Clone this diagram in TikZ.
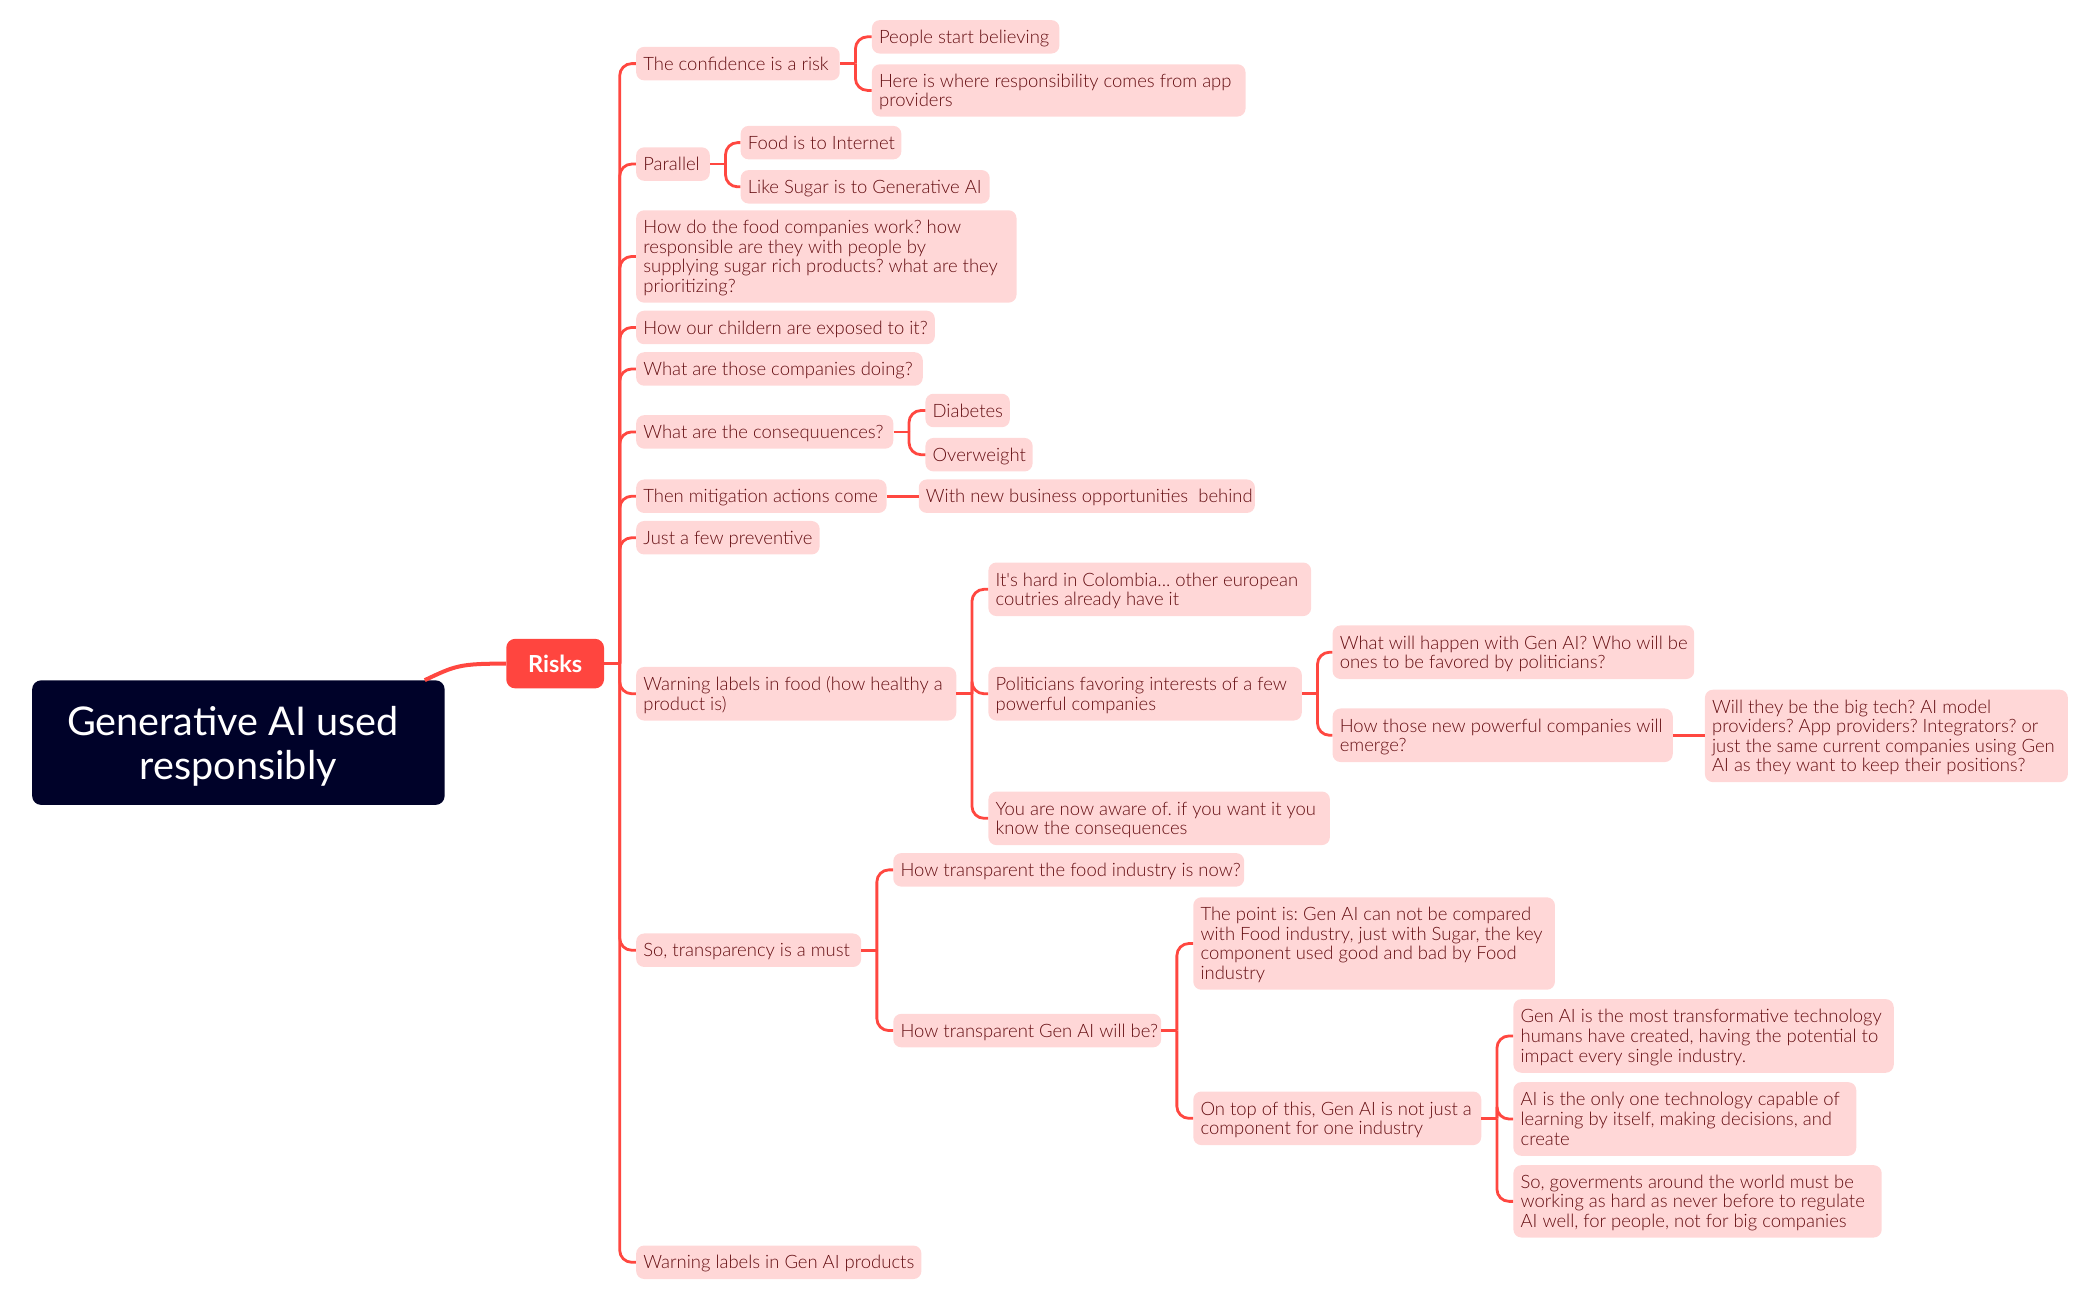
\documentclass[tikz,border=0pt]{standalone}
\usepackage{fontspec}
\setmainfont{Lato}
\newfontfamily\lightfont{Lato Light}
\frenchspacing
\usetikzlibrary{calc}
\definecolor{rootc}{HTML}{000229}
\definecolor{riskc}{HTML}{FF453F}
\definecolor{pillc}{HTML}{FFD7D7}
\definecolor{txtc}{HTML}{650E12}
\definecolor{linec}{HTML}{FF4740}
\tikzset{
  pill/.style={fill=pillc,text=txtc,rounded corners=8pt,inner xsep=7.2pt,inner ysep=0pt,font=\lightfont\frenchspacing\fontsize{18.45}{19.6}\selectfont},
  rootbox/.style={fill=rootc,text=white,rounded corners=9pt,inner sep=0pt,font=\frenchspacing\fontsize{39.6}{44}\selectfont},
  riskbox/.style={fill=riskc,text=white,rounded corners=9pt,inner sep=0pt,align=center,font=\fontsize{23.5}{26}\selectfont\bfseries},
  conn/.style={draw=linec,line width=2.8pt},
  thick conn/.style={draw=linec,line width=4pt}
}
% name, x1, y1, x2, y2, text (coordinates in the 1568-wide view)
\newcommand\tn[6]{\pgfmathsetlengthmacro\tw{(#4-#2)*1.3393pt-14.4pt}%
\node[pill,minimum width={(#4-#2)*1.3393pt},minimum height={(#5-#3)*1.3393pt}] (#1) at ({(#2+#4)/2},{(#3+#5)/2}) {\raisebox{-7pt}[0pt][0pt]{\makebox[\tw][l]{\begin{tabular}[c]{@{}l@{}}#6\end{tabular}}}};}
\newcommand\stub[1]{\draw[conn] (#1.east) -- ++(15.5pt,0);}
\newcommand\kid[2]{\draw[conn,rounded corners=12pt] ($(#1.east)+(15.5pt,0)$) |- (#2.west);}
\begin{document}
\begin{tikzpicture}[x=1.3393pt,y=-1.3393pt]
\useasboundingbox (0,0) rectangle (1568,970);
\tn{a1}{475}{35}{627}{60}{The confidence is a risk}
\tn{a1a}{651}{15}{791}{40}{People start believing}
\tn{a1b}{651}{48}{930}{87}{Here is where responsibility comes from app\\providers}
\tn{a2}{475}{110}{530}{135}{Parallel}
\tn{a2a}{553}{94}{673}{119}{Food is to Internet}
\tn{a2b}{553}{127}{739}{152}{Like Sugar is to Generative AI}
\tn{a3}{475}{157}{759}{226}{How do the food companies work? how\\responsible are they with people by\\supplying sugar rich products? what are they\\prioritizing?}
\tn{a4}{475}{232}{698}{257}{How our childern are exposed to it?}
\tn{a5}{475}{263}{689}{288}{What are those companies doing?}
\tn{a6}{475}{310}{667}{335}{What are the consequuences?}
\tn{a6a}{691}{294}{754}{319}{Diabetes}
\tn{a6b}{691}{327}{771}{352}{Overweight}
\tn{a7}{475}{358}{662}{383}{Then mitigation actions come}
\tn{a7a}{686}{358}{937}{383}{With new business opportunities\ \ behind}
\tn{a8}{475}{389}{612}{414}{Just a few preventive}
\tn{a9}{475}{498}{714}{538}{Warning labels in food (how healthy a\\product is)}
\tn{a9a}{738}{420}{979}{460}{It's hard in Colombia... other european\\coutries already have it}
\tn{a9b}{738}{498}{972}{538}{Politicians favoring interests of a few\\powerful companies}
\tn{a9ba}{995}{467}{1265}{507}{What will happen with Gen AI? Who will be\\ones to be favored by politicians?}
\tn{a9bb}{995}{529}{1249}{569}{How those new powerful companies will\\emerge?}
\tn{a9bc}{1273}{515}{1544}{584}{Will they be the big tech? AI model\\providers? App providers? Integrators? or\\just the same current companies using Gen\\AI as they want to keep their positions?}
\tn{a9c}{738}{591}{993}{631}{You are now aware of. if you want it you\\know the consequences}
\tn{a10}{475}{697}{643}{722}{So, transparency is a must}
\tn{a10a}{667}{637}{929}{662}{How transparent the food industry is now?}
\tn{a10b}{667}{757}{867}{782}{How transparent Gen AI will be?}
\tn{a10ba}{891}{670}{1161}{739}{The point is: Gen AI can not be compared\\with Food industry, just with Sugar, the key\\component used good and bad by Food\\industry}
\tn{a10bb}{891}{815}{1106}{855}{On top of this, Gen AI is not just a\\component for one industry}
\tn{x1}{1130}{746}{1414}{801}{Gen AI is the most transformative technology\\humans have created, having the potential to\\impact every single industry.}
\tn{x2}{1130}{808}{1386}{863}{AI is the only one technology capable of\\learning by itself, making decisions, and\\create}
\tn{x3}{1130}{870}{1405}{924}{So, goverments around the world must be\\working as hard as never before to regulate\\AI well, for people, not for big companies}
\tn{a11}{475}{930}{688}{955}{Warning labels in Gen AI products}
\node[rootbox,minimum width={308*1.3393pt},minimum height={93*1.3393pt}] (root) at (178,554.5) {\raisebox{-12.7pt}[0pt][0pt]{\begin{tabular}[c]{@{}c@{}}Generative AI used\rule{11pt}{0pt}\\responsibly\end{tabular}}};
\node[riskbox,minimum width={73*1.3393pt},minimum height={37*1.3393pt}] (risks) at (414.5,495.5) {Risks};
\draw[thick conn] (risks.west) .. controls +(-35,0) and (340,497) .. ($(root.north east)+(-15,0)$);
\stub{risks}
\foreach \c in {a1,a2,a3,a4,a5,a6,a7,a8,a9,a10,a11}{\kid{risks}{\c}}
\stub{a1}\kid{a1}{a1a}\kid{a1}{a1b}
\stub{a2}\kid{a2}{a2a}\kid{a2}{a2b}
\stub{a6}\kid{a6}{a6a}\kid{a6}{a6b}
\draw[conn] (a7) -- (a7a);
\stub{a9}\kid{a9}{a9a}\kid{a9}{a9b}\kid{a9}{a9c}
\stub{a9b}\kid{a9b}{a9ba}\kid{a9b}{a9bb}
\draw[conn] (a9bb.east) -- (a9bb.east -| a9bc.west);
\stub{a10}\kid{a10}{a10a}\kid{a10}{a10b}
\stub{a10b}\kid{a10b}{a10ba}\kid{a10b}{a10bb}
\stub{a10bb}\kid{a10bb}{x1}\kid{a10bb}{x2}\kid{a10bb}{x3}
\end{tikzpicture}
\end{document}
